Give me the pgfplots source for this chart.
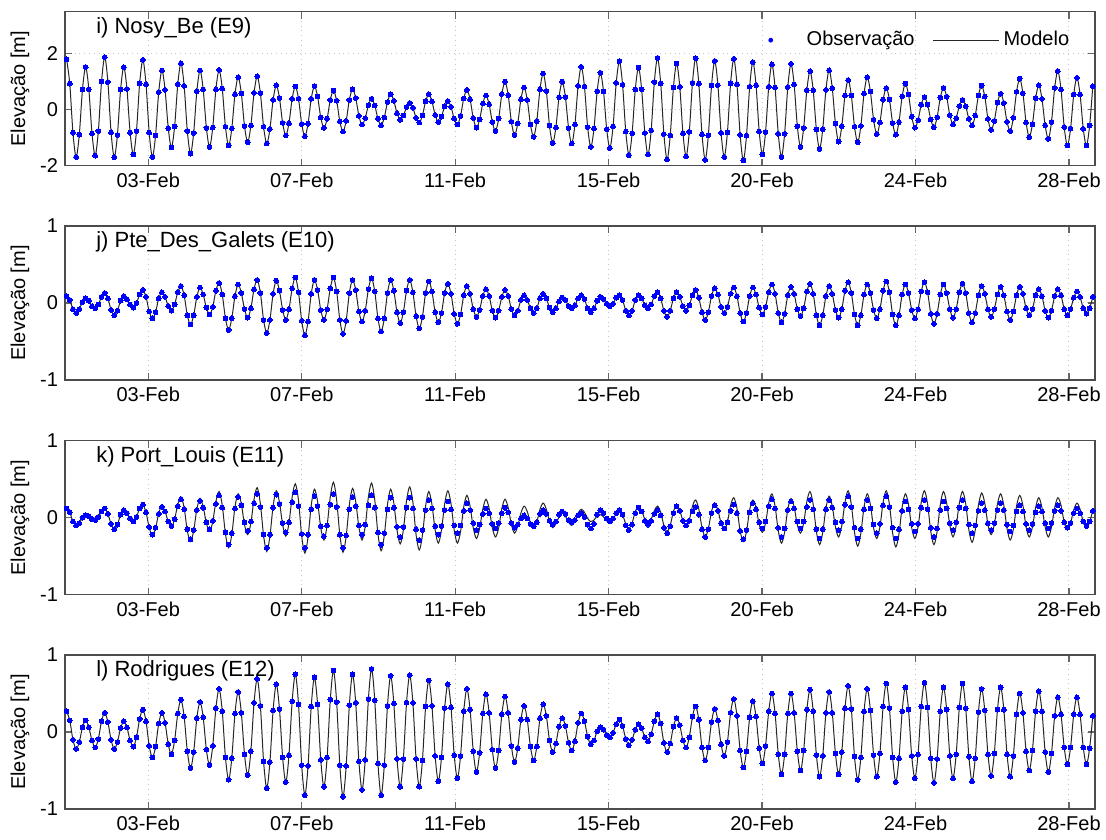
\documentclass[border=0pt]{standalone}
\usepackage{fontspec}
\setmainfont{Liberation Sans}
\usepackage{pgfplots}
\usepackage{pgfplotstable}
\pgfplotsset{compat=1.18}
\pgfplotsset{
 tide/.style={
  width=515pt, height=77pt, scale only axis,
  xmin=-0.5, xmax=323.7,
  xtick={25.7,74.0,122.3,170.6,218.9,267.2,315.5},
  xticklabels={03-Feb,07-Feb,11-Feb,15-Feb,20-Feb,24-Feb,28-Feb},
  grid=major,
  major grid style={gray!45, dotted, line width=0.5pt},
  tick align=inside,
  major tick length=3.5pt,
  tick style={black!60, line width=0.6pt},
  axis line style={black!70, line width=0.6pt},
  tick label style={font=\fontsize{10}{12}\selectfont, black},
  /pgf/number format/assume math mode=true,
  ylabel={Elevação [m]},
  ylabel style={at={(axis description cs:-0.0437,0.5)}, anchor=center, font=\fontsize{10}{12}\selectfont},
 },
 obs/.style={only marks, mark=*, mark size=1.2pt, color=blue, mark options={draw=blue, fill=blue, line width=0pt}},
 mod/.style={no marks, smooth, black!85, line width=0.5pt},
}
\newcommand{\ptitle}[1]{\node[anchor=west, font=\fontsize{11}{13}\selectfont, inner sep=0pt] at (axis description cs:0.030,0.895) {#1};}
\begin{document}
\pgfplotstableread[row sep=\\]{
v\\
1.80\\ 0.93\\ -0.82\\ -1.69\\ -0.89\\ 0.72\\
1.52\\ 0.73\\ -0.85\\ -1.64\\ -0.76\\ 1.00\\
1.88\\ 0.99\\ -0.81\\ -1.70\\ -0.90\\ 0.72\\
1.52\\ 0.74\\ -0.82\\ -1.60\\ -0.76\\ 0.94\\
1.78\\ 0.91\\ -0.82\\ -1.69\\ -0.92\\ 0.63\\
1.40\\ 0.71\\ -0.66\\ -1.35\\ -0.60\\ 0.91\\
1.66\\ 0.85\\ -0.76\\ -1.57\\ -0.83\\ 0.66\\
1.40\\ 0.72\\ -0.65\\ -1.33\\ -0.64\\ 0.73\\
1.42\\ 0.75\\ -0.61\\ -1.28\\ -0.67\\ 0.55\\
1.16\\ 0.58\\ -0.58\\ -1.16\\ -0.57\\ 0.60\\
1.19\\ 0.59\\ -0.61\\ -1.21\\ -0.69\\ 0.35\\
0.87\\ 0.42\\ -0.47\\ -0.92\\ -0.48\\ 0.39\\
0.83\\ 0.39\\ -0.51\\ -0.95\\ -0.50\\ 0.39\\
0.84\\ 0.47\\ -0.28\\ -0.65\\ -0.32\\ 0.35\\
0.68\\ 0.32\\ -0.42\\ -0.78\\ -0.40\\ 0.35\\
0.73\\ 0.42\\ -0.22\\ -0.53\\ -0.30\\ 0.16\\
0.39\\ 0.15\\ -0.32\\ -0.56\\ -0.28\\ 0.27\\
0.55\\ 0.32\\ -0.13\\ -0.36\\ -0.21\\ 0.09\\
0.24\\ 0.07\\ -0.29\\ -0.46\\ -0.21\\ 0.30\\
0.55\\ 0.30\\ -0.19\\ -0.44\\ -0.25\\ 0.12\\
0.31\\ 0.10\\ -0.32\\ -0.53\\ -0.22\\ 0.40\\
0.71\\ 0.37\\ -0.30\\ -0.64\\ -0.35\\ 0.22\\
0.51\\ 0.19\\ -0.44\\ -0.76\\ -0.32\\ 0.56\\
1.00\\ 0.52\\ -0.43\\ -0.91\\ -0.49\\ 0.37\\
0.79\\ 0.35\\ -0.53\\ -0.97\\ -0.41\\ 0.73\\
1.29\\ 0.67\\ -0.57\\ -1.19\\ -0.64\\ 0.45\\
1.00\\ 0.45\\ -0.66\\ -1.21\\ -0.53\\ 0.85\\
1.53\\ 0.82\\ -0.62\\ -1.33\\ -0.67\\ 0.66\\
1.32\\ 0.65\\ -0.70\\ -1.37\\ -0.60\\ 0.96\\
1.73\\ 0.89\\ -0.78\\ -1.62\\ -0.84\\ 0.72\\
1.50\\ 0.73\\ -0.83\\ -1.60\\ -0.74\\ 0.99\\
1.85\\ 0.94\\ -0.87\\ -1.78\\ -0.92\\ 0.79\\
1.65\\ 0.82\\ -0.84\\ -1.67\\ -0.79\\ 0.96\\
1.84\\ 0.93\\ -0.88\\ -1.79\\ -0.91\\ 0.86\\
1.74\\ 0.88\\ -0.83\\ -1.69\\ -0.81\\ 0.94\\
1.82\\ 0.91\\ -0.90\\ -1.81\\ -0.93\\ 0.82\\
1.70\\ 0.88\\ -0.78\\ -1.60\\ -0.80\\ 0.82\\
1.62\\ 0.79\\ -0.86\\ -1.69\\ -0.86\\ 0.81\\
1.64\\ 0.90\\ -0.59\\ -1.33\\ -0.65\\ 0.70\\
1.38\\ 0.69\\ -0.71\\ -1.40\\ -0.70\\ 0.71\\
1.41\\ 0.77\\ -0.50\\ -1.14\\ -0.59\\ 0.51\\
1.06\\ 0.51\\ -0.61\\ -1.16\\ -0.58\\ 0.58\\
1.16\\ 0.65\\ -0.36\\ -0.87\\ -0.46\\ 0.36\\
0.77\\ 0.36\\ -0.48\\ -0.89\\ -0.44\\ 0.48\\
0.93\\ 0.54\\ -0.25\\ -0.64\\ -0.37\\ 0.18\\
0.45\\ 0.18\\ -0.35\\ -0.62\\ -0.27\\ 0.43\\
0.78\\ 0.46\\ -0.20\\ -0.52\\ -0.30\\ 0.13\\
0.35\\ 0.12\\ -0.33\\ -0.56\\ -0.21\\ 0.51\\
0.86\\ 0.47\\ -0.33\\ -0.72\\ -0.40\\ 0.25\\
0.57\\ 0.24\\ -0.43\\ -0.76\\ -0.29\\ 0.64\\
1.11\\ 0.59\\ -0.46\\ -0.98\\ -0.52\\ 0.41\\
0.87\\ 0.39\\ -0.56\\ -1.04\\ -0.44\\ 0.78\\
1.38\\ 0.72\\ -0.62\\ -1.28\\ -0.68\\ 0.54\\
1.14\\ 0.54\\ -0.68\\ -1.28\\ -0.57\\ 0.84\\
}\tabA
\pgfplotstableread[row sep=\\]{
v\\
0.09\\ 0.04\\ -0.08\\ -0.13\\ -0.08\\ 0.01\\
0.06\\ 0.03\\ -0.04\\ -0.07\\ -0.02\\ 0.08\\
0.13\\ 0.06\\ -0.09\\ -0.16\\ -0.10\\ 0.03\\
0.09\\ 0.05\\ -0.02\\ -0.06\\ 0.00\\ 0.11\\
0.17\\ 0.08\\ -0.11\\ -0.20\\ -0.12\\ 0.06\\
0.14\\ 0.08\\ -0.04\\ -0.10\\ -0.02\\ 0.14\\
0.22\\ 0.10\\ -0.16\\ -0.28\\ -0.16\\ 0.08\\
0.20\\ 0.11\\ -0.06\\ -0.15\\ -0.05\\ 0.16\\
0.26\\ 0.11\\ -0.20\\ -0.35\\ -0.20\\ 0.09\\
0.24\\ 0.13\\ -0.08\\ -0.19\\ -0.07\\ 0.18\\
0.30\\ 0.13\\ -0.22\\ -0.39\\ -0.22\\ 0.12\\
0.29\\ 0.16\\ -0.09\\ -0.22\\ -0.08\\ 0.19\\
0.33\\ 0.14\\ -0.23\\ -0.42\\ -0.24\\ 0.12\\
0.30\\ 0.17\\ -0.09\\ -0.22\\ -0.08\\ 0.19\\
0.33\\ 0.15\\ -0.22\\ -0.40\\ -0.23\\ 0.13\\
0.30\\ 0.17\\ -0.11\\ -0.24\\ -0.10\\ 0.18\\
0.32\\ 0.15\\ -0.20\\ -0.37\\ -0.20\\ 0.13\\
0.30\\ 0.16\\ -0.12\\ -0.26\\ -0.12\\ 0.16\\
0.30\\ 0.14\\ -0.17\\ -0.33\\ -0.18\\ 0.13\\
0.28\\ 0.15\\ -0.12\\ -0.25\\ -0.13\\ 0.13\\
0.25\\ 0.12\\ -0.14\\ -0.27\\ -0.15\\ 0.10\\
0.22\\ 0.12\\ -0.08\\ -0.18\\ -0.09\\ 0.09\\
0.18\\ 0.09\\ -0.10\\ -0.19\\ -0.10\\ 0.08\\
0.17\\ 0.09\\ -0.08\\ -0.16\\ -0.10\\ 0.04\\
0.10\\ 0.04\\ -0.07\\ -0.13\\ -0.07\\ 0.06\\
0.12\\ 0.06\\ -0.06\\ -0.12\\ -0.07\\ 0.02\\
0.07\\ 0.04\\ -0.04\\ -0.07\\ -0.03\\ 0.06\\
0.10\\ 0.05\\ -0.07\\ -0.12\\ -0.07\\ 0.03\\
0.08\\ 0.05\\ -0.01\\ -0.04\\ -0.01\\ 0.07\\
0.10\\ 0.04\\ -0.10\\ -0.16\\ -0.10\\ 0.04\\
0.10\\ 0.06\\ -0.03\\ -0.07\\ -0.02\\ 0.09\\
0.14\\ 0.06\\ -0.10\\ -0.18\\ -0.10\\ 0.06\\
0.14\\ 0.08\\ -0.04\\ -0.10\\ -0.03\\ 0.10\\
0.17\\ 0.07\\ -0.12\\ -0.22\\ -0.12\\ 0.09\\
0.19\\ 0.11\\ -0.05\\ -0.13\\ -0.05\\ 0.12\\
0.20\\ 0.09\\ -0.13\\ -0.24\\ -0.13\\ 0.09\\
0.20\\ 0.11\\ -0.06\\ -0.15\\ -0.05\\ 0.14\\
0.24\\ 0.12\\ -0.13\\ -0.25\\ -0.14\\ 0.10\\
0.21\\ 0.12\\ -0.08\\ -0.17\\ -0.07\\ 0.15\\
0.25\\ 0.12\\ -0.16\\ -0.29\\ -0.16\\ 0.09\\
0.22\\ 0.12\\ -0.09\\ -0.19\\ -0.08\\ 0.16\\
0.27\\ 0.13\\ -0.15\\ -0.29\\ -0.16\\ 0.11\\
0.24\\ 0.13\\ -0.09\\ -0.20\\ -0.08\\ 0.16\\
0.28\\ 0.14\\ -0.15\\ -0.29\\ -0.16\\ 0.11\\
0.24\\ 0.13\\ -0.09\\ -0.20\\ -0.08\\ 0.15\\
0.27\\ 0.14\\ -0.14\\ -0.27\\ -0.14\\ 0.11\\
0.24\\ 0.13\\ -0.08\\ -0.19\\ -0.08\\ 0.14\\
0.25\\ 0.13\\ -0.13\\ -0.25\\ -0.13\\ 0.10\\
0.22\\ 0.12\\ -0.08\\ -0.18\\ -0.08\\ 0.11\\
0.21\\ 0.10\\ -0.11\\ -0.22\\ -0.11\\ 0.10\\
0.21\\ 0.12\\ -0.07\\ -0.16\\ -0.08\\ 0.10\\
0.18\\ 0.09\\ -0.10\\ -0.19\\ -0.10\\ 0.09\\
0.18\\ 0.10\\ -0.08\\ -0.16\\ -0.08\\ 0.07\\
0.15\\ 0.08\\ -0.07\\ -0.14\\ -0.07\\ 0.08\\
}\tabB
\pgfplotstableread[row sep=\\]{
v\\
0.12\\ 0.07\\ -0.05\\ -0.10\\ -0.07\\ 0.00\\
0.03\\ 0.02\\ -0.02\\ -0.03\\ 0.01\\ 0.08\\
0.12\\ 0.05\\ -0.08\\ -0.15\\ -0.09\\ 0.04\\
0.10\\ 0.06\\ -0.01\\ -0.05\\ 0.01\\ 0.12\\
0.17\\ 0.07\\ -0.12\\ -0.22\\ -0.13\\ 0.05\\
0.14\\ 0.08\\ -0.05\\ -0.11\\ -0.02\\ 0.15\\
0.24\\ 0.11\\ -0.15\\ -0.28\\ -0.16\\ 0.10\\
0.22\\ 0.13\\ -0.06\\ -0.15\\ -0.04\\ 0.18\\
0.29\\ 0.13\\ -0.19\\ -0.35\\ -0.20\\ 0.12\\
0.27\\ 0.16\\ -0.06\\ -0.17\\ -0.05\\ 0.19\\
0.31\\ 0.14\\ -0.22\\ -0.39\\ -0.22\\ 0.13\\
0.30\\ 0.18\\ -0.07\\ -0.19\\ -0.06\\ 0.20\\
0.33\\ 0.15\\ -0.21\\ -0.39\\ -0.22\\ 0.11\\
0.28\\ 0.15\\ -0.11\\ -0.24\\ -0.10\\ 0.17\\
0.31\\ 0.14\\ -0.22\\ -0.39\\ -0.23\\ 0.11\\
0.27\\ 0.15\\ -0.10\\ -0.22\\ -0.09\\ 0.16\\
0.29\\ 0.13\\ -0.19\\ -0.35\\ -0.20\\ 0.11\\
0.26\\ 0.13\\ -0.12\\ -0.25\\ -0.12\\ 0.13\\
0.26\\ 0.12\\ -0.15\\ -0.29\\ -0.16\\ 0.10\\
0.23\\ 0.12\\ -0.11\\ -0.22\\ -0.11\\ 0.10\\
0.21\\ 0.11\\ -0.10\\ -0.20\\ -0.10\\ 0.09\\
0.19\\ 0.10\\ -0.07\\ -0.16\\ -0.09\\ 0.05\\
0.12\\ 0.06\\ -0.08\\ -0.14\\ -0.07\\ 0.06\\
0.13\\ 0.07\\ -0.07\\ -0.13\\ -0.09\\ -0.01\\
0.03\\ -0.01\\ -0.08\\ -0.11\\ -0.06\\ 0.05\\
0.10\\ 0.05\\ -0.04\\ -0.09\\ -0.05\\ 0.04\\
0.08\\ 0.05\\ -0.03\\ -0.06\\ -0.03\\ 0.03\\
0.06\\ 0.01\\ -0.09\\ -0.14\\ -0.08\\ 0.04\\
0.10\\ 0.06\\ -0.01\\ -0.05\\ -0.01\\ 0.06\\
0.10\\ 0.04\\ -0.10\\ -0.16\\ -0.09\\ 0.06\\
0.13\\ 0.08\\ -0.04\\ -0.09\\ -0.04\\ 0.05\\
0.10\\ 0.03\\ -0.13\\ -0.20\\ -0.11\\ 0.06\\
0.15\\ 0.09\\ -0.04\\ -0.10\\ -0.04\\ 0.08\\
0.14\\ 0.04\\ -0.15\\ -0.25\\ -0.15\\ 0.06\\
0.16\\ 0.09\\ -0.07\\ -0.14\\ -0.06\\ 0.09\\
0.17\\ 0.06\\ -0.17\\ -0.28\\ -0.16\\ 0.07\\
0.19\\ 0.11\\ -0.06\\ -0.14\\ -0.05\\ 0.15\\
0.24\\ 0.12\\ -0.13\\ -0.25\\ -0.14\\ 0.10\\
0.21\\ 0.12\\ -0.05\\ -0.14\\ -0.05\\ 0.14\\
0.23\\ 0.11\\ -0.15\\ -0.27\\ -0.15\\ 0.11\\
0.23\\ 0.13\\ -0.06\\ -0.16\\ -0.05\\ 0.17\\
0.28\\ 0.14\\ -0.13\\ -0.27\\ -0.15\\ 0.11\\
0.23\\ 0.12\\ -0.09\\ -0.20\\ -0.08\\ 0.16\\
0.28\\ 0.14\\ -0.13\\ -0.27\\ -0.15\\ 0.09\\
0.21\\ 0.11\\ -0.08\\ -0.18\\ -0.08\\ 0.13\\
0.23\\ 0.11\\ -0.13\\ -0.25\\ -0.14\\ 0.10\\
0.21\\ 0.12\\ -0.07\\ -0.16\\ -0.06\\ 0.13\\
0.23\\ 0.12\\ -0.09\\ -0.20\\ -0.10\\ 0.09\\
0.19\\ 0.10\\ -0.07\\ -0.16\\ -0.07\\ 0.10\\
0.19\\ 0.10\\ -0.09\\ -0.18\\ -0.10\\ 0.08\\
0.16\\ 0.08\\ -0.08\\ -0.16\\ -0.08\\ 0.07\\
0.15\\ 0.08\\ -0.07\\ -0.14\\ -0.07\\ 0.09\\
0.16\\ 0.09\\ -0.06\\ -0.13\\ -0.07\\ 0.06\\
0.12\\ 0.06\\ -0.05\\ -0.11\\ -0.05\\ 0.09\\
}\tabC
\pgfplotstableread[row sep=\\]{
v\\
0.12\\ 0.07\\ -0.05\\ -0.10\\ -0.07\\ 0.00\\
0.03\\ 0.02\\ -0.02\\ -0.03\\ 0.01\\ 0.08\\
0.12\\ 0.05\\ -0.08\\ -0.15\\ -0.09\\ 0.04\\
0.10\\ 0.06\\ -0.01\\ -0.05\\ 0.01\\ 0.12\\
0.17\\ 0.07\\ -0.13\\ -0.23\\ -0.14\\ 0.06\\
0.15\\ 0.08\\ -0.05\\ -0.12\\ -0.02\\ 0.17\\
0.27\\ 0.13\\ -0.17\\ -0.31\\ -0.17\\ 0.11\\
0.25\\ 0.14\\ -0.07\\ -0.18\\ -0.05\\ 0.21\\
0.34\\ 0.16\\ -0.21\\ -0.39\\ -0.22\\ 0.14\\
0.31\\ 0.18\\ -0.09\\ -0.22\\ -0.07\\ 0.24\\
0.39\\ 0.18\\ -0.23\\ -0.44\\ -0.24\\ 0.15\\
0.35\\ 0.20\\ -0.09\\ -0.24\\ -0.07\\ 0.27\\
0.44\\ 0.22\\ -0.24\\ -0.46\\ -0.25\\ 0.16\\
0.37\\ 0.21\\ -0.13\\ -0.29\\ -0.10\\ 0.27\\
0.46\\ 0.23\\ -0.22\\ -0.45\\ -0.24\\ 0.17\\
0.38\\ 0.21\\ -0.12\\ -0.29\\ -0.11\\ 0.27\\
0.45\\ 0.23\\ -0.21\\ -0.43\\ -0.23\\ 0.17\\
0.37\\ 0.19\\ -0.16\\ -0.34\\ -0.16\\ 0.22\\
0.40\\ 0.20\\ -0.22\\ -0.42\\ -0.23\\ 0.15\\
0.34\\ 0.17\\ -0.16\\ -0.33\\ -0.16\\ 0.18\\
0.35\\ 0.18\\ -0.16\\ -0.33\\ -0.18\\ 0.14\\
0.29\\ 0.15\\ -0.13\\ -0.27\\ -0.14\\ 0.11\\
0.24\\ 0.12\\ -0.13\\ -0.25\\ -0.13\\ 0.12\\
0.24\\ 0.13\\ -0.09\\ -0.20\\ -0.11\\ 0.06\\
0.15\\ 0.08\\ -0.07\\ -0.14\\ -0.06\\ 0.11\\
0.19\\ 0.11\\ -0.05\\ -0.13\\ -0.08\\ 0.01\\
0.06\\ 0.02\\ -0.06\\ -0.10\\ -0.05\\ 0.06\\
0.11\\ 0.07\\ -0.01\\ -0.05\\ -0.03\\ 0.02\\
0.04\\ 0.01\\ -0.04\\ -0.07\\ -0.03\\ 0.06\\
0.10\\ 0.04\\ -0.08\\ -0.14\\ -0.07\\ 0.08\\
0.15\\ 0.09\\ -0.02\\ -0.08\\ -0.02\\ 0.09\\
0.15\\ 0.07\\ -0.10\\ -0.18\\ -0.10\\ 0.08\\
0.16\\ 0.09\\ -0.04\\ -0.11\\ -0.03\\ 0.15\\
0.23\\ 0.11\\ -0.13\\ -0.25\\ -0.14\\ 0.08\\
0.19\\ 0.10\\ -0.07\\ -0.16\\ -0.06\\ 0.16\\
0.26\\ 0.12\\ -0.17\\ -0.31\\ -0.18\\ 0.10\\
0.23\\ 0.13\\ -0.09\\ -0.19\\ -0.07\\ 0.19\\
0.31\\ 0.15\\ -0.17\\ -0.33\\ -0.19\\ 0.11\\
0.25\\ 0.14\\ -0.09\\ -0.20\\ -0.07\\ 0.21\\
0.34\\ 0.17\\ -0.18\\ -0.35\\ -0.19\\ 0.12\\
0.28\\ 0.15\\ -0.12\\ -0.25\\ -0.10\\ 0.20\\
0.35\\ 0.17\\ -0.19\\ -0.37\\ -0.20\\ 0.14\\
0.31\\ 0.17\\ -0.13\\ -0.27\\ -0.12\\ 0.20\\
0.35\\ 0.17\\ -0.20\\ -0.38\\ -0.21\\ 0.14\\
0.31\\ 0.17\\ -0.13\\ -0.27\\ -0.12\\ 0.20\\
0.35\\ 0.18\\ -0.18\\ -0.35\\ -0.18\\ 0.17\\
0.34\\ 0.19\\ -0.10\\ -0.25\\ -0.10\\ 0.19\\
0.34\\ 0.18\\ -0.16\\ -0.32\\ -0.16\\ 0.16\\
0.32\\ 0.19\\ -0.09\\ -0.22\\ -0.09\\ 0.18\\
0.31\\ 0.16\\ -0.14\\ -0.29\\ -0.15\\ 0.15\\
0.29\\ 0.16\\ -0.12\\ -0.25\\ -0.12\\ 0.13\\
0.26\\ 0.13\\ -0.12\\ -0.25\\ -0.12\\ 0.13\\
0.26\\ 0.16\\ -0.06\\ -0.16\\ -0.07\\ 0.10\\
0.19\\ 0.11\\ -0.06\\ -0.14\\ -0.06\\ 0.10\\
}\tabD
\pgfplotstableread[row sep=\\]{
v\\
0.27\\ 0.15\\ -0.10\\ -0.22\\ -0.13\\ 0.06\\
0.15\\ 0.06\\ -0.11\\ -0.20\\ -0.09\\ 0.14\\
0.25\\ 0.13\\ -0.10\\ -0.22\\ -0.13\\ 0.05\\
0.14\\ 0.06\\ -0.11\\ -0.19\\ -0.07\\ 0.17\\
0.29\\ 0.14\\ -0.18\\ -0.33\\ -0.19\\ 0.11\\
0.25\\ 0.12\\ -0.16\\ -0.29\\ -0.11\\ 0.24\\
0.42\\ 0.20\\ -0.25\\ -0.47\\ -0.26\\ 0.18\\
0.39\\ 0.19\\ -0.23\\ -0.43\\ -0.18\\ 0.31\\
0.56\\ 0.27\\ -0.33\\ -0.62\\ -0.34\\ 0.24\\
0.52\\ 0.25\\ -0.29\\ -0.56\\ -0.25\\ 0.38\\
0.69\\ 0.34\\ -0.38\\ -0.73\\ -0.39\\ 0.28\\
0.62\\ 0.30\\ -0.33\\ -0.65\\ -0.30\\ 0.40\\
0.75\\ 0.36\\ -0.43\\ -0.82\\ -0.44\\ 0.33\\
0.71\\ 0.36\\ -0.36\\ -0.71\\ -0.33\\ 0.42\\
0.80\\ 0.39\\ -0.43\\ -0.84\\ -0.44\\ 0.35\\
0.75\\ 0.38\\ -0.38\\ -0.75\\ -0.36\\ 0.43\\
0.82\\ 0.41\\ -0.41\\ -0.82\\ -0.43\\ 0.34\\
0.73\\ 0.37\\ -0.35\\ -0.71\\ -0.35\\ 0.38\\
0.74\\ 0.38\\ -0.35\\ -0.71\\ -0.37\\ 0.33\\
0.67\\ 0.34\\ -0.31\\ -0.64\\ -0.33\\ 0.31\\
0.62\\ 0.32\\ -0.30\\ -0.60\\ -0.31\\ 0.27\\
0.56\\ 0.29\\ -0.25\\ -0.52\\ -0.27\\ 0.24\\
0.49\\ 0.25\\ -0.23\\ -0.47\\ -0.24\\ 0.23\\
0.46\\ 0.25\\ -0.18\\ -0.39\\ -0.21\\ 0.16\\
0.34\\ 0.16\\ -0.19\\ -0.37\\ -0.19\\ 0.18\\
0.36\\ 0.21\\ -0.11\\ -0.26\\ -0.15\\ 0.07\\
0.18\\ 0.08\\ -0.14\\ -0.24\\ -0.12\\ 0.12\\
0.24\\ 0.14\\ -0.06\\ -0.16\\ -0.11\\ 0.01\\
0.06\\ 0.03\\ -0.04\\ -0.07\\ -0.01\\ 0.10\\
0.16\\ 0.08\\ -0.09\\ -0.17\\ -0.10\\ 0.03\\
0.10\\ 0.05\\ -0.07\\ -0.12\\ -0.03\\ 0.14\\
0.23\\ 0.11\\ -0.14\\ -0.26\\ -0.15\\ 0.07\\
0.18\\ 0.09\\ -0.11\\ -0.20\\ -0.07\\ 0.20\\
0.33\\ 0.16\\ -0.20\\ -0.37\\ -0.20\\ 0.13\\
0.30\\ 0.15\\ -0.16\\ -0.31\\ -0.13\\ 0.25\\
0.43\\ 0.21\\ -0.24\\ -0.46\\ -0.25\\ 0.19\\
0.40\\ 0.20\\ -0.21\\ -0.41\\ -0.18\\ 0.27\\
0.50\\ 0.24\\ -0.29\\ -0.55\\ -0.29\\ 0.24\\
0.50\\ 0.25\\ -0.25\\ -0.50\\ -0.24\\ 0.29\\
0.55\\ 0.27\\ -0.30\\ -0.58\\ -0.31\\ 0.25\\
0.52\\ 0.25\\ -0.28\\ -0.55\\ -0.26\\ 0.31\\
0.60\\ 0.30\\ -0.32\\ -0.62\\ -0.33\\ 0.27\\
0.56\\ 0.28\\ -0.30\\ -0.58\\ -0.28\\ 0.33\\
0.63\\ 0.31\\ -0.33\\ -0.65\\ -0.34\\ 0.27\\
0.58\\ 0.29\\ -0.31\\ -0.60\\ -0.29\\ 0.33\\
0.64\\ 0.32\\ -0.34\\ -0.66\\ -0.35\\ 0.27\\
0.58\\ 0.29\\ -0.31\\ -0.60\\ -0.29\\ 0.32\\
0.63\\ 0.31\\ -0.32\\ -0.64\\ -0.34\\ 0.26\\
0.56\\ 0.28\\ -0.29\\ -0.57\\ -0.28\\ 0.29\\
0.58\\ 0.29\\ -0.29\\ -0.58\\ -0.31\\ 0.23\\
0.50\\ 0.25\\ -0.25\\ -0.50\\ -0.24\\ 0.27\\
0.53\\ 0.27\\ -0.26\\ -0.52\\ -0.28\\ 0.21\\
0.45\\ 0.23\\ -0.20\\ -0.42\\ -0.20\\ 0.23\\
0.45\\ 0.23\\ -0.20\\ -0.42\\ -0.21\\ 0.21\\
}\tabE
\begin{tikzpicture}
\useasboundingbox (0pt,0pt) rectangle (553pt,-419.5pt);
% panel i
\begin{axis}[tide, at={(32.5pt,-5.85pt)}, anchor=north west,
  ymin=-2, ymax=3.5, ytick={-2,0,2},
  legend style={at={(axis description cs:0.985,0.815)}, anchor=east, draw=none, fill=none,
    legend columns=2, font=\fontsize{10}{12}\selectfont,
    /tikz/every even column/.append style={column sep=7pt}}]
\addplot[obs, legend image code/.code={\fill[blue, draw=none] (16pt,0pt) circle (1.2pt); \path[draw=none, fill=none] (0pt,0pt) -- (32pt,0pt);}] table[x expr=\coordindex, y=v] {\tabA};
\addlegendentry{Observação}
\addplot[mod, legend image code/.code={\draw[black!85, line width=0.5pt] (0pt,0pt) -- (33pt,0pt);}] table[x expr=\coordindex, y=v] {\tabA};
\addlegendentry{Modelo}
\ptitle{i) Nosy\_Be (E9)}
\end{axis}
% panel j
\begin{axis}[tide, at={(32.5pt,-113pt)}, anchor=north west,
  ymin=-1, ymax=1, ytick={-1,0,1}]
\addplot[obs] table[x expr=\coordindex, y=v] {\tabB};
\addplot[mod] table[x expr=\coordindex, y=v] {\tabB};
\ptitle{j) Pte\_Des\_Galets (E10)}
\end{axis}
% panel k
\begin{axis}[tide, at={(32.5pt,-220.35pt)}, anchor=north west,
  ymin=-1, ymax=1, ytick={-1,0,1}]
\addplot[obs] table[x expr=\coordindex, y=v] {\tabC};
\addplot[mod] table[x expr=\coordindex, y=v] {\tabD};
\ptitle{k) Port\_Louis (E11)}
\end{axis}
% panel l
\begin{axis}[tide, at={(32.5pt,-327.5pt)}, anchor=north west,
  ymin=-1, ymax=1, ytick={-1,0,1}]
\addplot[obs] table[x expr=\coordindex, y=v] {\tabE};
\addplot[mod] table[x expr=\coordindex, y=v] {\tabE};
\ptitle{l) Rodrigues (E12)}
\end{axis}
\end{tikzpicture}
\end{document}
